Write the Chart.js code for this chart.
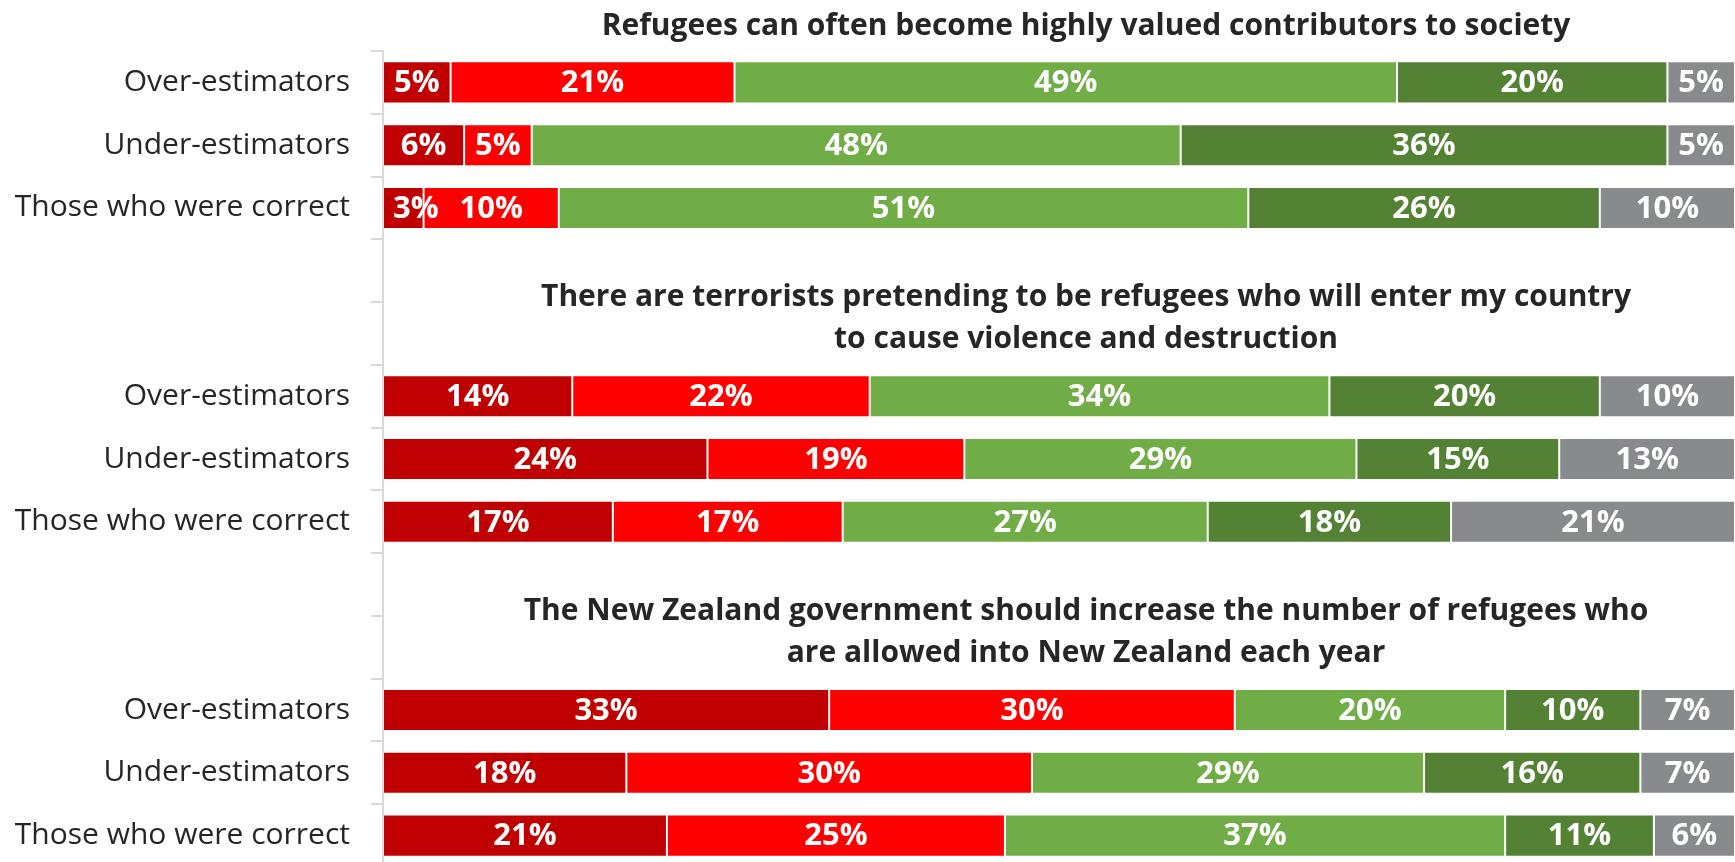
<!DOCTYPE html>
<html>
<head>
<meta charset="utf-8">
<script src="https://cdn.jsdelivr.net/npm/chart.js@4/dist/chart.umd.min.js"></script>
<style>
  html, body { margin: 0; padding: 0; background: #fff; overflow: hidden; }
</style>
</head>
<body>
<canvas id="chart" width="1735" height="906"></canvas>
<script>
// rows of the chart, blank rows leave room for the statement titles
const categories = [
    'Over-estimators', 'Under-estimators', 'Those who were correct', '', '',
    'Over-estimators', 'Under-estimators', 'Those who were correct', '', '',
    'Over-estimators', 'Under-estimators', 'Those who were correct'
];

// answer shares (%) per row, null on blank rows
const strongDisagree = [5, 6, 3, null, null, 14, 24, 17, null, null, 33, 18, 21];
const disagree       = [21, 5, 10, null, null, 22, 19, 17, null, null, 30, 30, 25];
const agree          = [49, 48, 51, null, null, 34, 29, 27, null, null, 20, 29, 37];
const strongAgree    = [20, 36, 26, null, null, 20, 15, 18, null, null, 10, 16, 11];
const dontKnow       = [5, 5, 10, null, null, 10, 13, 21, null, null, 7, 7, 6];

// statement titles, each sits above the row index given
const titleLines = [
    ['Refugees can often become highly valued contributors to society'],
    ['There are terrorists pretending to be refugees who will enter my country', 'to cause violence and destruction'],
    ['The New Zealand government should increase the number of refugees who', 'are allowed into New Zealand each year']
];
const titleRows = [0, 5, 10];

const FONT = '"Segoe UI", "Open Sans", sans-serif';
const DARK = '#262626';

const series = [
    { label: 'Strongly disagree', data: strongDisagree, color: '#C00000' },
    { label: 'Disagree', data: disagree, color: '#FF0000' },
    { label: 'Agree', data: agree, color: '#70AD47' },
    { label: 'Strongly agree', data: strongAgree, color: '#548235' },
    { label: "Don't know", data: dontKnow, color: '#898A8D' }
];

// white % labels in the middle of each segment (kept off the axis line)
const barLabels = {
    id: 'barLabels',
    afterDatasetsDraw(chart) {
        const ctx = chart.ctx;
        const left = chart.chartArea.left;
        ctx.save();
        ctx.fillStyle = '#fff';
        ctx.font = 'bold 31px ' + FONT;
        ctx.textAlign = 'center';
        ctx.textBaseline = 'middle';
        chart.data.datasets.forEach((ds, i) => {
            const meta = chart.getDatasetMeta(i);
            meta.data.forEach((bar, j) => {
                const v = ds.data[j];
                if (v == null) return;
                const p = bar.getProps(['x', 'base', 'y'], true);
                const txt = v + '%';
                const w = ctx.measureText(txt).width;
                const x = Math.max((p.x + p.base) / 2, left + w / 2 + 10);
                ctx.fillText(txt, x, p.y + 1);
            });
        });
        ctx.restore();
    }
};

// bold statement titles above each block
const blockTitles = {
    id: 'blockTitles',
    afterDraw(chart) {
        const ctx = chart.ctx;
        const y = chart.scales.y;
        const area = chart.chartArea;
        const step = y.getPixelForValue(1) - y.getPixelForValue(0);
        const cx = area.left + (area.right - area.left) * 0.52;
        ctx.save();
        ctx.fillStyle = DARK;
        ctx.font = 'bold 30px ' + FONT;
        ctx.textAlign = 'center';
        ctx.textBaseline = 'middle';
        titleLines.forEach((lines, k) => {
            const top = y.getPixelForValue(titleRows[k]) - step / 2;
            lines.forEach((line, n) => {
                const ly = top - 25 - (lines.length - 1 - n) * 42;
                ctx.fillText(line, cx, ly);
            });
        });
        ctx.restore();
    }
};

new Chart(document.getElementById('chart'), {
    type: 'bar',
    data: {
        labels: categories,
        datasets: series.map(s => ({
            label: s.label,
            data: s.data,
            backgroundColor: s.color,
            borderColor: 'rgba(255,255,255,0.2)',
            borderWidth: 1,
            borderSkipped: false,
            barPercentage: 0.67,
            categoryPercentage: 1
        }))
    },
    options: {
        indexAxis: 'y',
        responsive: false,
        animation: false,
        layout: { padding: { top: 51, bottom: 0, left: 0, right: 0 } },
        scales: {
            x: { stacked: true, min: 0, max: 100, display: false },
            y: {
                stacked: true,
                grid: {
                    offset: true,
                    drawOnChartArea: false,
                    tickLength: 12,
                    color: '#D9D9D9',
                    lineWidth: 2
                },
                border: { color: '#D9D9D9', width: 2 },
                ticks: {
                    color: DARK,
                    autoSkip: false,
                    padding: 21,
                    font: { size: 30, family: FONT }
                },
                afterFit(scale) { scale.width = 383; }
            }
        },
        plugins: {
            legend: { display: false },
            tooltip: { enabled: false }
        }
    },
    plugins: [barLabels, blockTitles]
});
</script>
</body>
</html>
